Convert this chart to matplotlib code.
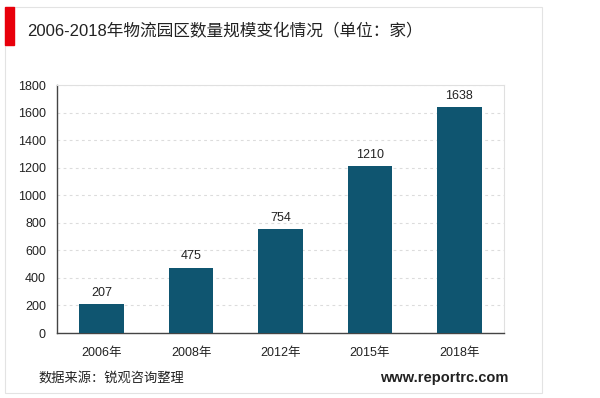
import matplotlib
matplotlib.use("Agg")
import matplotlib.pyplot as plt
from matplotlib.patches import Rectangle

plt.rcParams['font.family'] = ['Liberation Sans', 'Noto Sans CJK SC', 'DejaVu Sans']

# data
years = ['2006年', '2008年', '2012年', '2015年', '2018年']
counts = [207, 475, 754, 1210, 1638]
title = '2006-2018年物流园区数量规模变化情况（单位：家）'
source = '数据来源：锐观咨询整理'
site = 'www.reportrc.com'

bar_color = '#0f5570'

fig = plt.figure(figsize=(6, 3.98), dpi=100)

# card frame and red marker
fig.patches.append(Rectangle((5 / 600, 1 - 393 / 398), 537 / 600, 386 / 398,
                             transform=fig.transFigure, fill=False,
                             edgecolor='#e3e3e3', linewidth=0.8))
fig.patches.append(Rectangle((5 / 600, 1 - 45 / 398), 9 / 600, 38 / 398,
                             transform=fig.transFigure, color='#e8000b'))
fig.text(27 / 600, 1 - 31 / 398, title, fontsize=12, va='center', ha='left',
         color='#222222')

ax = fig.add_axes([57 / 600, 1 - 333 / 398, 447 / 600, 248 / 398])
x = range(len(years))
bars = ax.bar(x, counts, width=0.5, color=bar_color, zorder=3)
for b, v in zip(bars, counts):
    ax.text(b.get_x() + b.get_width() / 2, v + 40, str(v), ha='center',
            va='bottom', fontsize=9, color='#222222')

ax.set_xlim(-0.5, len(years) - 0.5)
ax.set_ylim(0, 1800)
ax.set_yticks(range(0, 1801, 200))
ax.set_xticks(list(x))
ax.set_xticklabels(years)
ax.tick_params(axis='both', length=0, labelsize=9, colors='#222222')
ax.tick_params(axis='x', pad=10)
ax.tick_params(axis='y', pad=8)
ax.grid(axis='y', linestyle=(0, (2.5, 3)), color='#dcdcdc', linewidth=0.8, zorder=0)

for side in ['top', 'right']:
    ax.spines[side].set_color('#e0e0e0')
    ax.spines[side].set_linewidth(0.8)
for side in ['left', 'bottom']:
    ax.spines[side].set_color('#444444')
    ax.spines[side].set_linewidth(1.0)

fig.text(38 / 600, 1 - 378 / 398, source, fontsize=9.5, va='center', ha='left',
         color='#222222')
fig.text(508 / 600, 1 - 378 / 398, site, fontsize=10.5, va='center', ha='right',
         fontweight='bold', color='#222222')

fig.savefig('out.png', dpi=100)
